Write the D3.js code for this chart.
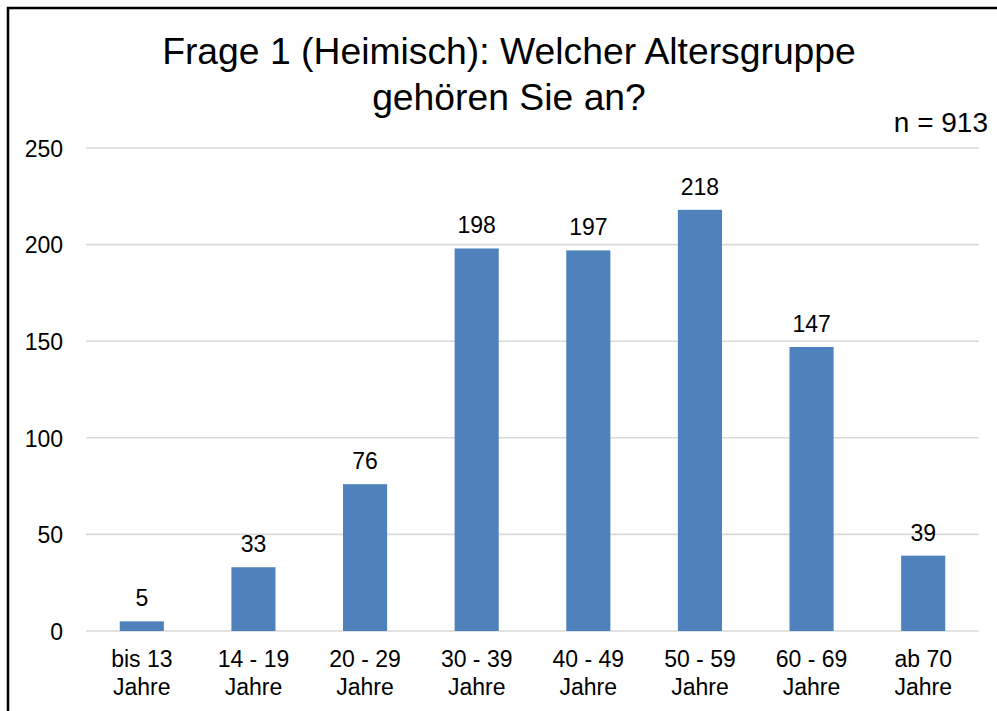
<html>
<head>
<meta charset="utf-8">
<script src="https://d3js.org/d3.v7.min.js"></script>
<style>
  body { margin: 0; background: white; }
  text { font-family: "Liberation Sans", Arial, sans-serif; fill: #000; }
</style>
</head>
<body>
<svg id="chart" width="997" height="711"></svg>
<script>
// data
var categories = [["bis 13", "Jahre"], ["14 - 19", "Jahre"], ["20 - 29", "Jahre"], ["30 - 39", "Jahre"],
                  ["40 - 49", "Jahre"], ["50 - 59", "Jahre"], ["60 - 69", "Jahre"], ["ab 70", "Jahre"]];
var values = [5, 33, 76, 198, 197, 218, 147, 39];
var yTicks = [0, 50, 100, 150, 200, 250];
var titleLines = ["Frage 1 (Heimisch): Welcher Altersgruppe", "gehören Sie an?"];
var note = "n = 913";

var svg = d3.select("#chart");
var plotLeft = 86, plotRight = 979, plotTop = 148, plotBottom = 631;

// outer frame (only top and left edge visible)
svg.append("rect")
  .attr("x", 8).attr("y", 8)
  .attr("width", 2000).attr("height", 2000)
  .attr("fill", "none").attr("stroke", "#000").attr("stroke-width", 2.5);

var x = d3.scaleBand()
  .domain(d3.range(categories.length))
  .range([plotLeft, plotRight])
  .padding(0);

var y = d3.scaleLinear()
  .domain([0, 250])
  .range([plotBottom, plotTop]);

// gridlines
svg.append("g").selectAll("line")
  .data(yTicks)
  .enter().append("line")
  .attr("x1", plotLeft).attr("x2", plotRight)
  .attr("y1", function(d) { return y(d); })
  .attr("y2", function(d) { return y(d); })
  .attr("stroke", "#d9d9d9").attr("stroke-width", 1.6);

// y axis labels
var yAxis = d3.axisLeft(y).tickValues(yTicks).tickSize(0).tickPadding(0);
var gy = svg.append("g").attr("transform", "translate(63,0)").call(yAxis);
gy.select(".domain").remove();
gy.selectAll("text")
  .style("font-family", "'Liberation Sans', Arial, sans-serif")
  .style("font-size", "23px")
  .attr("fill", "#000")
  .attr("dy", "0.36em");

var barW = x.bandwidth() * 0.395;

svg.append("g").selectAll("rect")
  .data(values)
  .enter().append("rect")
  .attr("x", function(d, i) { return x(i) + x.bandwidth() / 2 - barW / 2; })
  .attr("y", function(d) { return y(d); })
  .attr("width", barW)
  .attr("height", function(d) { return y(0) - y(d); })
  .attr("fill", "#4f81bd");

// value labels
svg.append("g").selectAll("text")
  .data(values)
  .enter().append("text")
  .attr("x", function(d, i) { return x(i) + x.bandwidth() / 2; })
  .attr("y", function(d) { return y(d) - 15; })
  .attr("text-anchor", "middle")
  .style("font-size", "23px")
  .text(function(d) { return d; });

// category labels
var cat = svg.append("g").selectAll("text")
  .data(categories)
  .enter().append("text")
  .attr("text-anchor", "middle")
  .style("font-size", "23px");
cat.each(function(d, i) {
  var t = d3.select(this);
  d.forEach(function(line, k) {
    t.append("tspan")
      .attr("x", x(i) + x.bandwidth() / 2)
      .attr("y", 667 + k * 28)
      .text(line);
  });
});

// title
svg.append("g").selectAll("text")
  .data(titleLines)
  .enter().append("text")
  .attr("x", 509)
  .attr("y", function(d, i) { return 64 + i * 46; })
  .attr("text-anchor", "middle")
  .style("font-size", "37.3px")
  .text(function(d) { return d; });

svg.append("text")
  .attr("x", 988).attr("y", 132)
  .attr("text-anchor", "end")
  .style("font-size", "28px")
  .text(note);
</script>
</body>
</html>
